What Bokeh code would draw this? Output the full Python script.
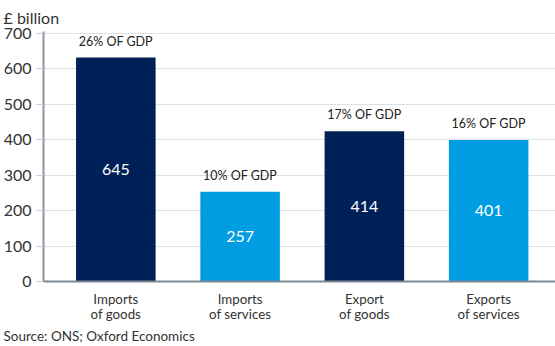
from bokeh.plotting import figure
from bokeh.models import Range1d, FixedTicker, ColumnDataSource, Title
from bokeh.core.properties import value
from bokeh.embed import file_html
from bokeh.resources import INLINE

categories = ["Imports\nof goods", "Imports\nof services", "Export\nof goods", "Exports\nof services"]
bar_heights = [632, 253, 424, 399]
value_labels = ["645", "257", "414", "401"]
gdp_labels = ["26% OF GDP", "10% OF GDP", "17% OF GDP", "16% OF GDP"]
colors = ["#002157", "#009de2", "#002157", "#009de2"]
y_ticks = [0, 100, 200, 300, 400, 500, 600, 700]

FONT = "Lato"
X0, X1, Y1 = -0.582, 3.538, 705.5
xs = list(range(len(categories)))
src = ColumnDataSource(dict(
    x=xs, top=bar_heights, mid=[h / 2 for h in bar_heights],
    val=value_labels, gdp=gdp_labels, color=colors,
))

p = figure(width=555, height=346, output_backend="svg", toolbar_location=None,
           x_range=Range1d(X0, X1), y_range=Range1d(0, Y1),
           min_border_left=42, min_border_right=0, min_border_top=30, min_border_bottom=65)
p.outline_line_color = None
p.background_fill_color = "white"
p.border_fill_color = "white"

p.vbar(x="x", top="top", width=0.64, bottom=0, fill_color="color", line_color=None, source=src)
p.text(x="x", y="mid", text="val", text_align="center", text_baseline="middle",
       text_color="white", text_font=value(FONT), text_font_size="16px", source=src)
p.text(x="x", y="top", text="gdp", text_align="center", text_baseline="bottom", y_offset=-9,
       text_color="#222222", text_font=value(FONT), text_font_size="12.5px", source=src)

p.xgrid.grid_line_color = None
p.ygrid.grid_line_color = "#dde0e5"
p.ygrid.grid_line_width = 1
p.ygrid.ticker = FixedTicker(ticks=y_ticks)

ya = p.yaxis[0]
ya.ticker = FixedTicker(ticks=y_ticks)
ya.axis_line_color = "#8a94a2"
ya.axis_line_width = 2
ya.major_tick_out = 7
ya.major_tick_in = 0
ya.major_tick_line_color = "#c9ced6"
ya.minor_tick_line_color = None
ya.major_label_standoff = 5
ya.major_label_text_font = FONT
ya.major_label_text_font_size = "16px"
ya.major_label_text_color = "#333333"

xa = p.xaxis[0]
xa.ticker = FixedTicker(ticks=xs)
xa.major_label_overrides = {i: c for i, c in enumerate(categories)}
xa.axis_line_color = "#7d8794"
xa.axis_line_width = 2
xa.major_tick_line_color = None
xa.minor_tick_line_color = None
xa.major_label_standoff = 3
xa.major_label_text_font = FONT
xa.major_label_text_font_size = "13.3px"
xa.major_label_text_line_height = 0.95
xa.major_label_text_color = "#333333"

p.add_layout(Title(text="£ billion", align="left", offset=-40, standoff=10,
                   text_font=FONT, text_font_size="16px", text_font_style="normal",
                   text_color="#333333"), "above")
p.add_layout(Title(text="Source: ONS; Oxford Economics", align="left", offset=-40, standoff=3,
                   text_font=FONT, text_font_size="13.5px", text_font_style="normal",
                   text_color="#333333"), "below")

open("out.html", "w").write(file_html(p, INLINE))
